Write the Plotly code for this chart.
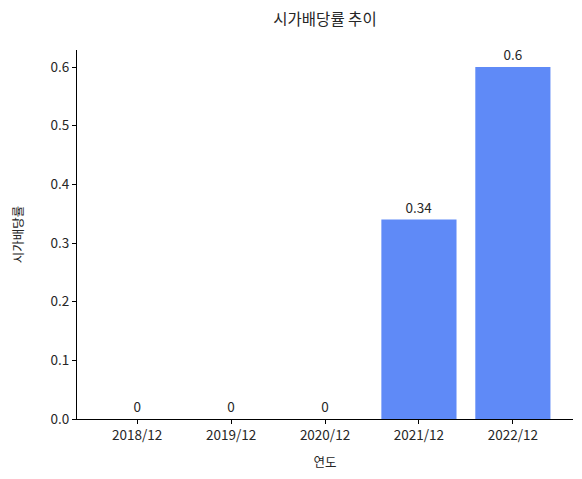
import plotly.graph_objects as go

years = ["2018/12", "2019/12", "2020/12", "2021/12", "2022/12"]
yield_rate = [0, 0, 0, 0.34, 0.6]
y_ticks = [0.0, 0.1, 0.2, 0.3, 0.4, 0.5, 0.6]

font_name = "Noto Sans CJK KR"

fig = go.Figure()
fig.add_trace(go.Bar(
    x=list(range(len(years))),
    y=yield_rate,
    width=0.8,
    marker=dict(color="#5f8af7", line=dict(width=0)),
    text=[f"{v:g}" for v in yield_rate],
    textposition="outside",
    cliponaxis=False,
    textfont=dict(size=13.5, color="#262626", family=font_name),
))

# page body has an 8px margin, so margins are shifted to land the axes where the reference has them
fig.update_layout(
    width=582, height=479,
    margin=dict(l=69, r=17, t=42, b=68, autoexpand=False),
    paper_bgcolor="white", plot_bgcolor="white",
    font=dict(family=font_name, size=13.5, color="#262626"),
    title=dict(text="시가배당률 추이", xref="paper", x=0.5, xanchor="center",
               y=1 - 12 / 479, yanchor="middle", font=dict(size=15.5)),
    showlegend=False,
)
fig.update_xaxes(
    range=[-0.64, 4.64],
    tickmode="array", tickvals=list(range(len(years))), ticktext=years,
    showline=True, linecolor="black", linewidth=1,
    ticks="outside", ticklen=4, tickcolor="black",
    showgrid=False, zeroline=False, automargin=False,
    title=dict(text="연도", standoff=15, font=dict(size=12.5)),
)
fig.update_yaxes(
    range=[0, 0.629],
    tickmode="array", tickvals=y_ticks, ticktext=[f"{t:.1f}" for t in y_ticks],
    showline=True, linecolor="black", linewidth=1,
    ticks="outside", ticklen=4, tickcolor="black",
    showgrid=False, zeroline=False, automargin=False,
    title=dict(text="시가배당률", standoff=31, font=dict(size=12.5)),
)

fig.write_html("out.html")
